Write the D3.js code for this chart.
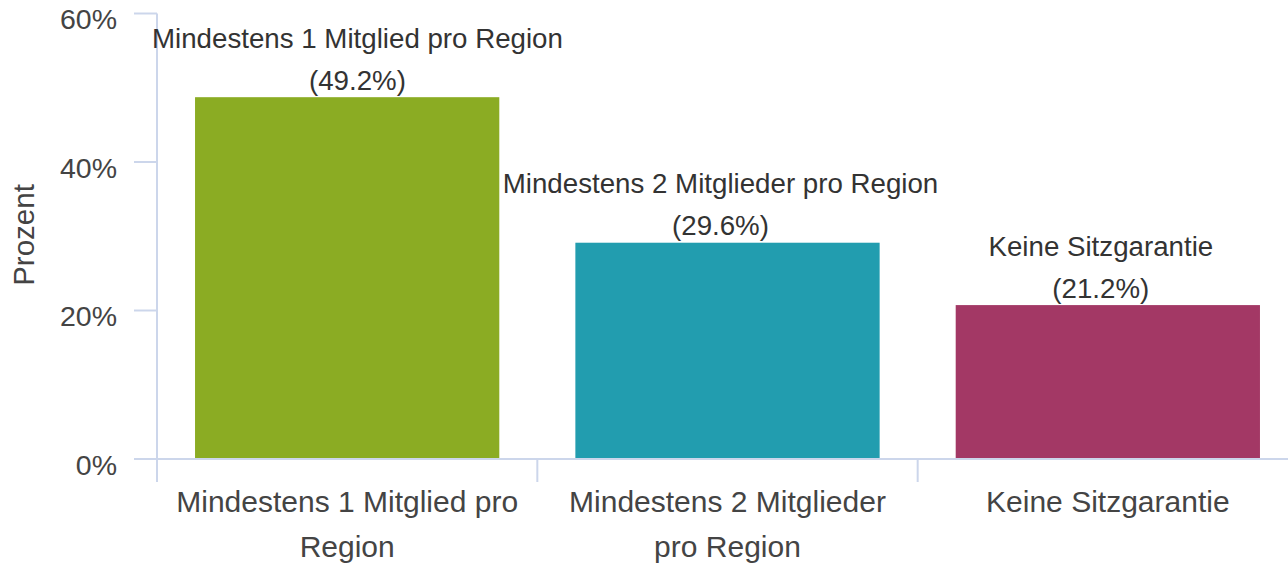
<!DOCTYPE html>
<html lang="de">
  <head>
    <meta charset="UTF-8">
    <script src="https://cdn.jsdelivr.net/npm/d3@7/dist/d3.min.js"></script>
    <script>window.d3 || document.write('<script src="https://d3js.org/d3.v7.min.js"><\/script>');</script>
    <title>Sitzgarantie</title>
    <style>
    body { margin: 0; background: #fff; }
    svg { display: block; font-family: "Liberation Sans", Arial, sans-serif; }
    </style>
  </head>
  <body>
    <div id="chart"></div>
    <script>

// Data
const categories = ["Mindestens 1 Mitglied pro Region", "Mindestens 2 Mitglieder pro Region", "Keine Sitzgarantie"];
const values     = [49.2, 29.6, 21.2];
const colours    = ["#8bac23", "#229daf", "#a33865"];
const yTicks     = [0, 20, 40, 60];

const width  = 1288;
const height = 563;
const margin = { top: 13.5, right: -10, bottom: 104, left: 157 };

const axisColour = "#ccd6eb";
const textColour = "#333";

const svg = d3
  .select("#chart")
  .append("svg")
  .attr("width", width)
  .attr("height", height)
  .attr("viewBox", [0, 0, width, height]);

const x = d3
  .scaleBand()
  .domain(categories)
  .range([margin.left, width - margin.right])
  .paddingInner(0.2)
  .paddingOuter(0.1);

const y = d3
  .scaleLinear()
  .domain([0, 60])
  .range([height - margin.bottom, margin.top]);

const step = x.step();
const y0 = y(0);

// Bars (white border eats a few pixels at the top)
const border = 3.5;
svg
  .append("g")
  .selectAll("rect")
  .data(values)
  .join("rect")
  .attr("x", (d, i) => x(categories[i]))
  .attr("width", x.bandwidth())
  .attr("y", d => y(d) + border)
  .attr("height", d => y0 - y(d) - border)
  .attr("fill", (d, i) => colours[i]);

// y axis line and ticks
const axes = svg.append("g").attr("stroke", axisColour).attr("stroke-width", 2);

axes
  .append("line")
  .attr("x1", margin.left).attr("x2", margin.left)
  .attr("y1", y(60)).attr("y2", y0 + 23);

axes
  .selectAll(".ytick")
  .data(yTicks)
  .join("line")
  .attr("x1", margin.left - 23).attr("x2", margin.left)
  .attr("y1", d => y(d)).attr("y2", d => y(d));

// x axis line and ticks at band boundaries
axes
  .append("line")
  .attr("x1", margin.left).attr("x2", width)
  .attr("y1", y0).attr("y2", y0);

axes
  .selectAll(".xtick")
  .data(categories.slice(1))
  .join("line")
  .attr("x1", d => x(d) - step * 0.1).attr("x2", d => x(d) - step * 0.1)
  .attr("y1", y0).attr("y2", y0 + 23);

// y tick labels
svg
  .append("g")
  .attr("fill", "#444")
  .attr("font-size", 28.5)
  .attr("text-anchor", "end")
  .selectAll("text")
  .data(yTicks)
  .join("text")
  .attr("x", margin.left - 40)
  .attr("y", d => y(d) + 6)
  .attr("dy", "0.35em")
  .text(d => d + "%");

// y axis title
svg
  .append("text")
  .attr("fill", "#444")
  .attr("font-size", 29.5)
  .attr("text-anchor", "middle")
  .attr("transform", `translate(24, 235) rotate(-90)`)
  .attr("dy", "0.35em")
  .text("Prozent");

// category labels, wrapped by width
const catLabels = svg
  .append("g")
  .attr("fill", "#444")
  .attr("font-size", 30)
  .attr("text-anchor", "middle")
  .selectAll("text")
  .data(categories)
  .join("text")
  .attr("x", d => x(d) + x.bandwidth() / 2)
  .attr("y", y0 + 53);

catLabels.each(function(d) {
  const text = d3.select(this);
  const words = d.split(" ");
  let line = [];
  let tspan = text.append("tspan").attr("x", text.attr("x")).attr("dy", 0);
  for (const w of words) {
    line.push(w);
    tspan.text(line.join(" "));
    if (tspan.node().getComputedTextLength() > 355 && line.length > 1) {
      line.pop();
      tspan.text(line.join(" "));
      line = [w];
      tspan = text.append("tspan").attr("x", text.attr("x")).attr("dy", 45).text(w);
    }
  }
});

// data labels
const labels = svg
  .append("g")
  .attr("fill", textColour)
  .attr("font-size", 27.7)
  .attr("text-anchor", "middle")
  .selectAll("g")
  .data(values)
  .join("g");

labels.each(function(d, i) {
  const g = d3.select(this);
  const top = y(d) + border;
  const t1 = g.append("text").attr("y", top - 59).attr("dy", "0.35em").text(categories[i]);
  const t2 = g.append("text").attr("y", top - 17).attr("dy", "0.35em").text(`(${d.toFixed(1)}%)`);
  const w = Math.max(t1.node().getComputedTextLength(), t2.node().getComputedTextLength());
  let cx = x(categories[i]) + x.bandwidth() / 2 - 7;
  if (cx - w / 2 < 152) cx = 152 + w / 2;
  t1.attr("x", cx);
  t2.attr("x", cx);
});

    </script>
  </body>
</html>
